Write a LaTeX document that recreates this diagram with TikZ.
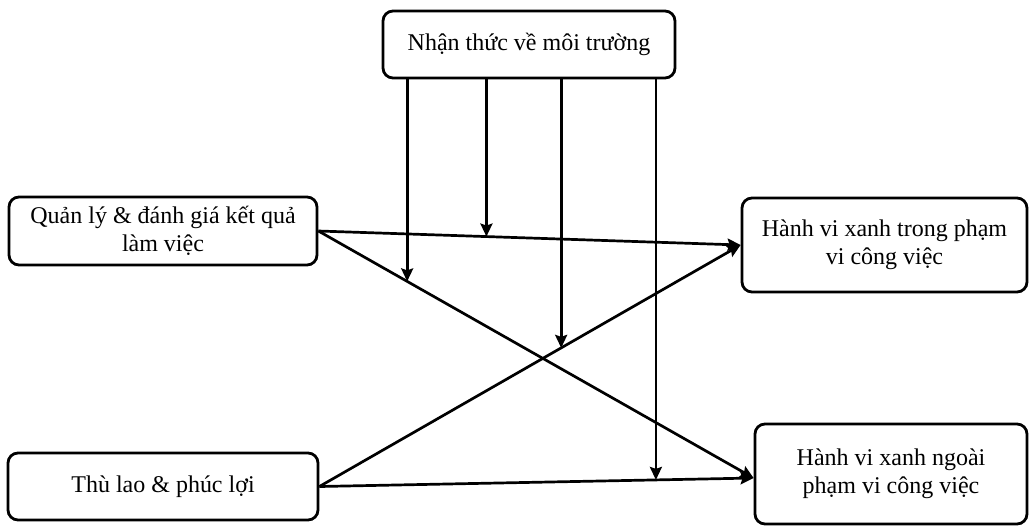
\documentclass[tikz,border=0pt]{standalone}
\usepackage{fontspec}
\setmainfont{Liberation Serif}
\usepackage{tikz}
\usetikzlibrary{positioning}
\usetikzlibrary{calc}
\usetikzlibrary{arrows.meta}

\begin{document}
\begin{tikzpicture}[x=0.5pt, y=-0.5pt,
	box/.style={draw, line width=1.4pt, rounded corners=5pt, align=center, inner sep=2pt,
		font=\fontsize{12pt}{13.8pt}\selectfont},
	conn/.style={line width=1.35pt, -{Stealth[length=6.5pt, width=6pt, inset=1pt]}}]
		\useasboundingbox (0,0) rectangle (1029,526);
		\node [box, minimum width=146pt, minimum height=33.5pt] at (529,44.5) (aware) {Nhận thức về môi trường};
		\node [box, minimum width=154pt, minimum height=34pt] at (163,231) (manage) {Quản lý \& đánh giá kết quả\\làm việc};
		\node [box, minimum width=155pt, minimum height=33.5pt] at (163,486.5) (reward) {Thù lao \& phúc lợi};
		\node [box, minimum width=142.5pt, minimum height=47pt] at (884.5,245) (inrole) {Hành vi xanh trong phạm\\vi công việc};
		\node [box, minimum width=136pt, minimum height=50pt] at (891,474) (extrarole) {Hành vi xanh ngoài\\phạm vi công việc};
		
		\draw [conn] (manage.east) -- coordinate[pos=0.398] (m2) (inrole.west);
		\draw [conn] (manage.east) -- coordinate[pos=0.204] (m1) ($(extrarole.west)+(0,4)$);
		\draw [conn] (reward.east) -- coordinate[pos=0.574] (m3) (inrole.west);
		\draw [conn] (reward.east) -- coordinate[pos=0.775] (m4) ($(extrarole.west)+(0,4)$);
		
		% moderating arrows from the top box onto the paths
		\draw [conn] (aware.south -| m1) -- (m1);
		\draw [conn] (aware.south -| m2) -- (m2);
		\draw [conn] (aware.south -| m3) -- (m3);
		\draw [conn] (aware.south -| m4) -- (m4);
\end{tikzpicture}
\end{document}
